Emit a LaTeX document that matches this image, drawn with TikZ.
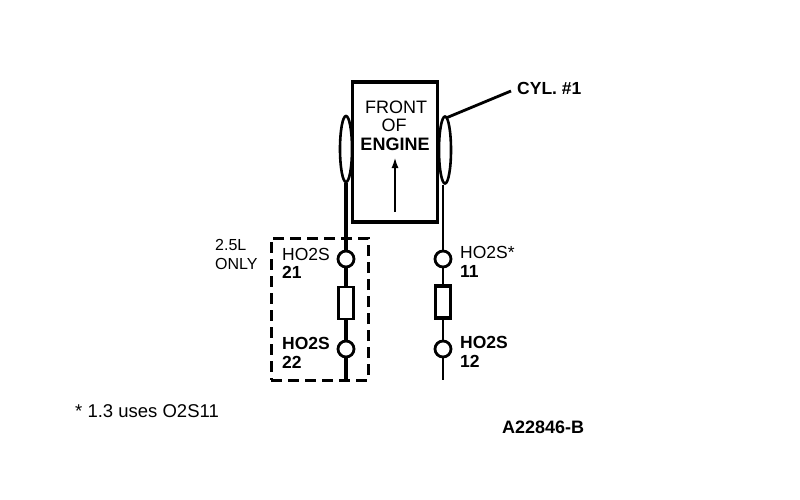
\documentclass[tikz,border=0pt]{standalone}
\usepackage{fontspec}
\setmainfont{Liberation Sans}
\usetikzlibrary{arrows.meta}
\usetikzlibrary{shapes.geometric}
\tikzset{
  wire/.style={line width=2.7pt},
  wirethick/.style={line width=3.6pt},
  sensor/.style={circle,draw,fill=white,line width=2.8pt,minimum size=16pt,inner sep=0pt},
  plug/.style={rectangle,draw,fill=white,line width=2.6pt,minimum width=15pt,minimum height=32pt,inner sep=0pt},
  bank/.style={ellipse,draw,fill=white,line width=2.6pt,inner sep=0pt},
  lbl/.style={anchor=west,inner sep=0pt,font=\fontsize{17.5}{17.5}\selectfont},
  lblb/.style={lbl,font=\fontsize{17.5}{17.5}\selectfont\bfseries},
  mid/.style={inner sep=0pt,font=\fontsize{18}{18}\selectfont},
}
\begin{document}
\begin{tikzpicture}[x=1pt,y=-1pt]
    \useasboundingbox (0,0) rectangle (800,500);
    % banks of cylinders
    \node[bank,minimum width=12pt,minimum height=66pt] (bankL) at (346,149) {};
    \node[bank,minimum width=12pt,minimum height=67pt] (bankR) at (445,150) {};
    % engine block
    \node[rectangle,draw,fill=white,line width=3.2pt,minimum width=85pt,minimum height=140pt,inner sep=0pt] (engine) at (395,152) {};
    \node[mid] (front) at (396,107) {FRONT};
    \node[mid] (of) at (394,125) {OF};
    \node[mid,font=\fontsize{18}{18}\selectfont\bfseries] (enginetxt) at (395,144) {ENGINE};
    \coordinate (arrowtail) at (395,212);
    \coordinate (arrowhead) at (395,157);
    \draw[line width=2.4pt,-{Latex[length=11pt,width=7pt]}] (arrowtail) -- (arrowhead);
    % cylinder one
    \node[lblb] (cyl) at (517,88) {CYL. \#1};
    \coordinate (cylend) at (446,118);
    \draw[line width=2.8pt] (cyl.west) ++(-6,3) coordinate (cylstart) -- (cylend);
    % left side
    \coordinate (endL) at (346,380);
    \node[sensor] (s21) at (346,259) {};
    \node[plug] (plugL) at (346,303) {};
    \node[sensor] (s22) at (346,349) {};
    \draw[wirethick] (bankL) -- (s21);
    \draw[wirethick] (s21) -- (plugL);
    \draw[wirethick] (plugL) -- (s22);
    \draw[wirethick] (s22) -- (endL);
    % right side
    \coordinate (endR) at (443,380);
    \node[sensor] (s11) at (443,259) {};
    \node[plug,line width=3.4pt] (plugR) at (443,302) {};
    \node[sensor] (s12) at (443,349) {};
    \draw[wire] (bankR.south -| s11) -- (s11);
    \draw[wire] (s11) -- (plugR);
    \draw[wire] (plugR) -- (s12);
    \draw[wire] (s12) -- (endR);
    % only on the 2.5L
    \node[rectangle,draw,line width=3pt,dash pattern=on 11pt off 6pt,minimum width=97pt,minimum height=142pt,inner sep=0pt] (only) at (319.5,309) {};
    \node[lbl,font=\fontsize{16}{16}\selectfont] (l25) at (215,245) {2.5L};
    \node[lbl,font=\fontsize{16}{16}\selectfont] (lonly) at (215,264) {ONLY};
    \node[lbl] (h21) at (282,254) {HO2S};
    \node[lblb] (n21) at (282,272) {21};
    \node[lblb] (h22) at (282,343) {HO2S};
    \node[lblb] (n22) at (282,362) {22};
    \node[lbl] (h11) at (460,252) {HO2S*};
    \node[lblb] (n11) at (460,271) {11};
    \node[lblb] (h12) at (460,342) {HO2S};
    \node[lblb] (n12) at (460,361) {12};
    % notes
    \node[lbl,font=\fontsize{18.5}{18.5}\selectfont] (note) at (75,411) {* 1.3 uses O2S11};
    \node[lblb,font=\fontsize{18}{18}\selectfont\bfseries] (code) at (502,427) {A22846-B};
  \end{tikzpicture}
\end{document}
